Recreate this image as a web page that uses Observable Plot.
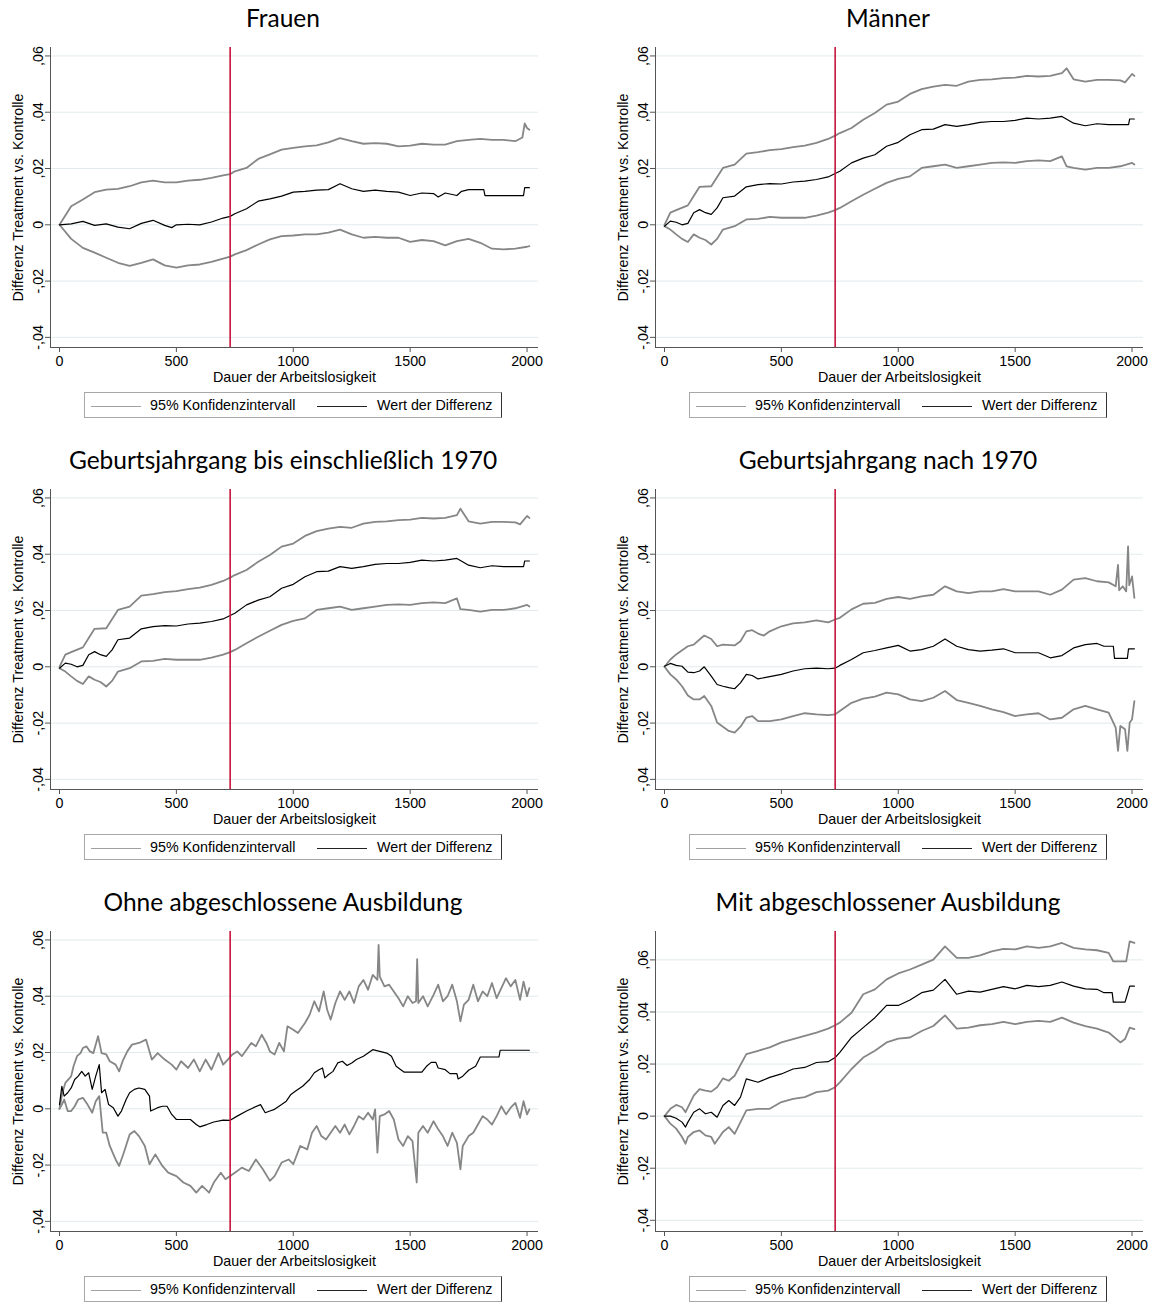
<!DOCTYPE html>
<html>
<head>
<meta charset="utf-8">
<script src="https://cdn.jsdelivr.net/npm/d3@7"></script>
<script src="https://cdn.jsdelivr.net/npm/@observablehq/plot@0.6"></script>
<style>
  html, body { margin: 0; padding: 0; background: #fff; }
  #page { position: relative; width: 1153px; height: 1303px; background: #fff; overflow: hidden; }
  .title { position: absolute; width: 566px; height: 28px; line-height: 28px; text-align: center;
           font-family: Lato, "Open Sans", sans-serif; font-size: 24.5px; color: #000; white-space: nowrap; }
  .chart { position: absolute; width: 560px; height: 350px; }
  .chart svg { max-width: none !important; }
  .legend { position: absolute; width: 418px; height: 26px; box-sizing: border-box;
            border: 1px solid #a8a8a8; border-right-color: #333; background: #fff;
            font-family: "Liberation Sans", Arial, sans-serif; font-size: 14.3px; color: #000; }
  .legend .ln { position: absolute; top: 13px; height: 0; width: 50px; border-top: 1px solid; }
  .legend .tx { position: absolute; top: 4px; line-height: 17px; white-space: nowrap; }
</style>
</head>
<body>
<div id="page"></div>
<script>
// ---------- axis definitions ----------
const xTicks = [0, 500, 1000, 1500, 2000];
const yTicks = [-0.04, -0.02, 0, 0.02, 0.04, 0.06];
const yTickLabels = ["-,04", "-,02", "0", ",02", ",04", ",06"];
const cutoffDay = 730;
const xLabel = "Dauer der Arbeitslosigkeit";
const yLabel = "Differenz Treatment vs. Kontrolle";
const legendLabels = ["95% Konfidenzintervall", "Wert der Differenz"];
const panelTitles = ["Frauen", "Männer", "Geburtsjahrgang bis einschließlich 1970",
                     "Geburtsjahrgang nach 1970", "Ohne abgeschlossene Ausbildung", "Mit abgeschlossener Ausbildung"];

// ---------- data: [Tag, Wert] ----------
const frauenOben = [[0,0],[50,0.0066],[100,0.009],[150,0.0116],[200,0.0125],[250,0.0128],[300,0.0137],[350,0.0151],[400,0.0157],[450,0.0151],[500,0.0151],[550,0.0157],[600,0.016],[650,0.0167],[700,0.0176],[730,0.018],[750,0.019],[800,0.0202],[850,0.0234],[900,0.025],[950,0.0267],[1000,0.0273],[1050,0.0279],[1100,0.0282],[1150,0.0293],[1200,0.0308],[1250,0.0297],[1300,0.0288],[1350,0.029],[1400,0.0288],[1450,0.0279],[1500,0.0281],[1550,0.0288],[1600,0.0285],[1650,0.0285],[1700,0.0297],[1750,0.0302],[1800,0.0305],[1850,0.0302],[1900,0.0302],[1950,0.0297],[1980,0.031],[1990,0.036],[2000,0.0344],[2010,0.0338]];
const frauenDiff = [[0,0],[50,0.0003],[100,0.0012],[150,-0.0002],[200,0.0003],[250,-0.0008],[300,-0.0014],[350,0.0005],[400,0.0016],[450,-0.0002],[480,-0.001],[500,0],[550,0.0002],[600,0],[650,0.001],[700,0.0024],[730,0.003],[750,0.0039],[800,0.0057],[850,0.0084],[900,0.0092],[950,0.0102],[1000,0.0116],[1050,0.0119],[1100,0.0123],[1150,0.0125],[1200,0.0146],[1250,0.0128],[1300,0.0119],[1350,0.0123],[1400,0.0119],[1450,0.0116],[1500,0.0104],[1550,0.0113],[1600,0.0111],[1620,0.0099],[1650,0.0113],[1700,0.0104],[1720,0.0119],[1750,0.0125],[1815,0.0125],[1820,0.0104],[1985,0.0104],[1990,0.0132],[2010,0.0132]];
const frauenUnten = [[0,0],[50,-0.005],[100,-0.0082],[150,-0.0099],[200,-0.0117],[250,-0.0135],[300,-0.0146],[350,-0.0135],[400,-0.0123],[450,-0.0144],[500,-0.0152],[550,-0.0144],[600,-0.0141],[650,-0.0132],[700,-0.012],[730,-0.0113],[750,-0.0105],[800,-0.009],[850,-0.007],[900,-0.0052],[950,-0.004],[1000,-0.0038],[1050,-0.0034],[1100,-0.0034],[1150,-0.0028],[1200,-0.0017],[1250,-0.0034],[1300,-0.0046],[1350,-0.0043],[1400,-0.0046],[1450,-0.0046],[1500,-0.0061],[1550,-0.0054],[1600,-0.0058],[1650,-0.0073],[1700,-0.0058],[1750,-0.005],[1800,-0.0064],[1850,-0.0085],[1900,-0.0087],[1950,-0.0085],[2000,-0.0078],[2010,-0.0076]];

const maennerOben = [[0,0],[25,0.0043],[50,0.0052],[100,0.0069],[125,0.0102],[150,0.0135],[200,0.0137],[250,0.0202],[300,0.0214],[350,0.0253],[400,0.0258],[450,0.0265],[500,0.0269],[550,0.0276],[600,0.0281],[650,0.0291],[700,0.0305],[730,0.0317],[750,0.0326],[800,0.0344],[850,0.0373],[900,0.0397],[950,0.0427],[1000,0.0438],[1050,0.0465],[1100,0.0482],[1150,0.0491],[1200,0.0497],[1250,0.0494],[1300,0.0509],[1350,0.0515],[1400,0.0517],[1450,0.0521],[1500,0.0523],[1550,0.0529],[1600,0.0527],[1650,0.0529],[1700,0.0539],[1720,0.0556],[1750,0.0517],[1800,0.0509],[1850,0.0515],[1900,0.0515],[1950,0.0513],[1970,0.0506],[2000,0.0536],[2010,0.0529]];
const maennerDiff = [[0,-0.0005],[25,0.0013],[50,0.0009],[75,0],[100,0.0005],[125,0.0043],[150,0.0054],[175,0.0043],[200,0.0037],[225,0.006],[250,0.0096],[300,0.0102],[350,0.0135],[400,0.0143],[450,0.0146],[500,0.0145],[550,0.0152],[600,0.0155],[650,0.0161],[700,0.017],[730,0.0182],[750,0.019],[800,0.022],[850,0.0237],[900,0.0249],[950,0.0279],[1000,0.0293],[1050,0.032],[1100,0.0338],[1150,0.034],[1200,0.0356],[1250,0.035],[1300,0.0356],[1350,0.0364],[1400,0.0367],[1450,0.0367],[1500,0.0371],[1550,0.0379],[1600,0.0376],[1650,0.0379],[1700,0.0385],[1750,0.0361],[1800,0.0352],[1850,0.0359],[1900,0.0356],[1985,0.0356],[1990,0.0376],[2010,0.0376]];
const maennerUnten = [[0,-0.0005],[25,-0.0017],[50,-0.0034],[75,-0.005],[100,-0.0061],[125,-0.0034],[150,-0.0046],[175,-0.0054],[200,-0.007],[225,-0.005],[250,-0.0017],[300,-0.0005],[350,0.0019],[400,0.0021],[450,0.0028],[500,0.0025],[550,0.0025],[600,0.0025],[650,0.0033],[700,0.0043],[730,0.0052],[750,0.006],[800,0.0084],[850,0.0107],[900,0.0128],[950,0.0149],[1000,0.0163],[1050,0.0172],[1100,0.0202],[1150,0.0208],[1200,0.0214],[1250,0.0202],[1300,0.0208],[1350,0.0214],[1400,0.022],[1450,0.0222],[1500,0.022],[1550,0.0226],[1600,0.0229],[1650,0.0226],[1700,0.0243],[1720,0.0208],[1750,0.0202],[1800,0.0196],[1850,0.0202],[1900,0.0202],[1950,0.0208],[2000,0.022],[2010,0.0214]];

// Geburtsjahrgang bis einschließlich 1970 (curves read identical to "Männer")
const jg70bisOben = [[0,0],[25,0.0043],[50,0.0052],[100,0.0069],[125,0.0102],[150,0.0135],[200,0.0137],[250,0.0202],[300,0.0214],[350,0.0253],[400,0.0258],[450,0.0265],[500,0.0269],[550,0.0276],[600,0.0281],[650,0.0291],[700,0.0305],[730,0.0317],[750,0.0326],[800,0.0344],[850,0.0373],[900,0.0397],[950,0.0427],[1000,0.0438],[1050,0.0465],[1100,0.0482],[1150,0.0491],[1200,0.0497],[1250,0.0494],[1300,0.0509],[1350,0.0515],[1400,0.0517],[1450,0.0521],[1500,0.0523],[1550,0.0529],[1600,0.0527],[1650,0.0529],[1700,0.0539],[1715,0.0562],[1750,0.0517],[1800,0.0509],[1850,0.0515],[1900,0.0515],[1950,0.0513],[1970,0.0506],[2000,0.0536],[2010,0.0529]];
const jg70bisDiff = [[0,-0.0005],[25,0.0013],[50,0.0009],[75,0],[100,0.0005],[125,0.0043],[150,0.0054],[175,0.0043],[200,0.0037],[225,0.006],[250,0.0096],[300,0.0102],[350,0.0135],[400,0.0143],[450,0.0146],[500,0.0145],[550,0.0152],[600,0.0155],[650,0.0161],[700,0.017],[730,0.0182],[750,0.019],[800,0.022],[850,0.0237],[900,0.0249],[950,0.0279],[1000,0.0293],[1050,0.032],[1100,0.0338],[1150,0.034],[1200,0.0356],[1250,0.035],[1300,0.0356],[1350,0.0364],[1400,0.0367],[1450,0.0367],[1500,0.0371],[1550,0.0379],[1600,0.0376],[1650,0.0379],[1700,0.0385],[1750,0.0361],[1800,0.0352],[1850,0.0359],[1900,0.0356],[1985,0.0356],[1990,0.0376],[2010,0.0376]];
const jg70bisUnten = [[0,-0.0005],[25,-0.0017],[50,-0.0034],[75,-0.005],[100,-0.0061],[125,-0.0034],[150,-0.0046],[175,-0.0054],[200,-0.007],[225,-0.005],[250,-0.0017],[300,-0.0005],[350,0.0019],[400,0.0021],[450,0.0028],[500,0.0025],[550,0.0025],[600,0.0025],[650,0.0033],[700,0.0043],[730,0.0052],[750,0.006],[800,0.0084],[850,0.0107],[900,0.0128],[950,0.0149],[1000,0.0163],[1050,0.0172],[1100,0.0202],[1150,0.0208],[1200,0.0214],[1250,0.0202],[1300,0.0208],[1350,0.0214],[1400,0.022],[1450,0.0222],[1500,0.022],[1550,0.0226],[1600,0.0229],[1650,0.0226],[1700,0.0243],[1715,0.0205],[1750,0.0202],[1800,0.0196],[1850,0.0202],[1900,0.0202],[1950,0.0208],[2000,0.022],[2010,0.0214]];

const jgNach70Oben = [[0,0],[25,0.0026],[50,0.0044],[75,0.0059],[100,0.0073],[125,0.0079],[150,0.0097],[170,0.0111],[200,0.0099],[225,0.0073],[250,0.0079],[300,0.0076],[325,0.0091],[350,0.0126],[375,0.013],[400,0.0118],[425,0.0111],[450,0.0126],[500,0.0144],[550,0.0154],[600,0.0158],[650,0.0165],[700,0.0158],[730,0.0168],[750,0.0174],[800,0.0204],[850,0.0224],[900,0.0227],[950,0.0241],[1000,0.0248],[1050,0.0241],[1100,0.025],[1150,0.0256],[1200,0.0286],[1250,0.0268],[1300,0.0262],[1350,0.0268],[1400,0.0268],[1450,0.0276],[1500,0.0268],[1550,0.0268],[1600,0.0268],[1650,0.0256],[1700,0.0274],[1750,0.031],[1800,0.0315],[1850,0.0304],[1900,0.03],[1930,0.0286],[1940,0.0362],[1945,0.0272],[1960,0.0286],[1975,0.0268],[1983,0.0428],[1988,0.029],[2000,0.0321],[2010,0.0245]];
const jgNach70Diff = [[0,0.0002],[25,0.0012],[50,0.0005],[75,0.0002],[100,-0.0019],[125,-0.0021],[150,-0.0015],[170,0],[200,-0.0033],[225,-0.0063],[250,-0.0069],[275,-0.0074],[300,-0.0078],[325,-0.0057],[350,-0.0027],[375,-0.0031],[400,-0.0043],[450,-0.0035],[500,-0.0027],[550,-0.0015],[600,-0.0007],[650,-0.0005],[700,-0.0007],[730,-0.0005],[750,0.0005],[800,0.0026],[850,0.005],[900,0.0058],[950,0.0067],[1000,0.0076],[1050,0.0056],[1100,0.0061],[1150,0.0073],[1200,0.0099],[1250,0.0073],[1300,0.0061],[1350,0.0056],[1400,0.0059],[1450,0.0064],[1500,0.005],[1550,0.005],[1600,0.005],[1650,0.0032],[1700,0.004],[1750,0.0067],[1800,0.0079],[1850,0.0083],[1880,0.0073],[1920,0.0073],[1925,0.003],[1980,0.003],[1985,0.0064],[2010,0.0064]];
const jgNach70Unten = [[0,0],[25,-0.0027],[50,-0.0045],[75,-0.0069],[100,-0.0102],[125,-0.0116],[150,-0.0116],[170,-0.0104],[200,-0.0139],[225,-0.0198],[250,-0.0213],[275,-0.0228],[300,-0.0234],[325,-0.0213],[350,-0.0181],[375,-0.0175],[400,-0.0193],[450,-0.0193],[500,-0.0187],[550,-0.0175],[600,-0.0165],[650,-0.0169],[700,-0.0172],[730,-0.0169],[750,-0.0157],[800,-0.0128],[850,-0.0113],[900,-0.0106],[950,-0.0092],[1000,-0.0098],[1050,-0.0116],[1100,-0.0122],[1150,-0.011],[1200,-0.0086],[1250,-0.0118],[1300,-0.0128],[1350,-0.0139],[1400,-0.0151],[1450,-0.0161],[1500,-0.0175],[1550,-0.0169],[1600,-0.0165],[1650,-0.0187],[1700,-0.0181],[1750,-0.0151],[1800,-0.0139],[1850,-0.0151],[1900,-0.0163],[1930,-0.0216],[1940,-0.0299],[1950,-0.021],[1970,-0.0222],[1980,-0.0299],[1990,-0.0198],[2000,-0.0187],[2010,-0.0122]];

const ohneOben = [[0,0],[12,0.0057],[25,0.0092],[40,0.0106],[50,0.0116],[60,0.0151],[75,0.0187],[90,0.0198],[100,0.0216],[115,0.0222],[130,0.0204],[145,0.0198],[165,0.0258],[180,0.0198],[200,0.0193],[215,0.0169],[240,0.0157],[255,0.0133],[270,0.0169],[290,0.0204],[310,0.0228],[340,0.0234],[370,0.0246],[385,0.0204],[395,0.0175],[420,0.0198],[450,0.0175],[480,0.0157],[500,0.0139],[520,0.0169],[550,0.0145],[575,0.0175],[600,0.0133],[625,0.0175],[650,0.0139],[680,0.0198],[700,0.0157],[720,0.0175],[740,0.0193],[760,0.0204],[780,0.0187],[800,0.021],[820,0.0234],[840,0.0222],[865,0.0263],[885,0.0234],[900,0.0204],[920,0.0193],[940,0.0234],[960,0.0204],[975,0.0293],[1000,0.0281],[1020,0.0269],[1050,0.0305],[1070,0.0334],[1090,0.0382],[1110,0.0346],[1130,0.0417],[1145,0.0352],[1160,0.0317],[1180,0.0376],[1200,0.0417],[1220,0.0387],[1240,0.0417],[1260,0.0376],[1280,0.0435],[1300,0.0458],[1320,0.0423],[1340,0.0476],[1360,0.0458],[1365,0.0582],[1370,0.047],[1390,0.0435],[1410,0.0441],[1430,0.0417],[1450,0.0393],[1470,0.0364],[1490,0.04],[1510,0.0376],[1525,0.0382],[1530,0.0532],[1535,0.0376],[1555,0.04],[1575,0.0364],[1600,0.0405],[1620,0.0441],[1640,0.0382],[1660,0.04],[1680,0.0441],[1700,0.0382],[1715,0.0311],[1730,0.037],[1750,0.0387],[1770,0.0441],[1790,0.0382],[1810,0.0417],[1830,0.04],[1850,0.0447],[1870,0.0393],[1890,0.0429],[1910,0.0464],[1930,0.0435],[1950,0.0458],[1970,0.0387],[1985,0.0452],[2000,0.04],[2010,0.0429]];
const ohneDiff = [[0,0.0015],[10,0.008],[20,0.0045],[35,0.0057],[50,0.0074],[65,0.0104],[80,0.0116],[95,0.0133],[110,0.0116],[125,0.0128],[140,0.0069],[155,0.0116],[170,0.0157],[180,0.0057],[195,0.0069],[210,0.0015],[230,0.0004],[250,-0.0026],[265,-0.0008],[285,0.0033],[300,0.0057],[320,0.0069],[340,0.0074],[365,0.0069],[385,0.0045],[390,-0.0008],[420,0.0004],[440,0.0009],[460,0.0009],[480,-0.002],[500,-0.0038],[530,-0.0038],[560,-0.0038],[585,-0.0056],[600,-0.0064],[630,-0.0056],[660,-0.0047],[700,-0.004],[730,-0.0041],[760,-0.0026],[800,-0.0008],[830,0.0004],[860,0.0015],[880,-0.0014],[900,-0.0008],[920,-0.0002],[950,0.0015],[970,0.0027],[990,0.0051],[1010,0.0063],[1040,0.008],[1070,0.0104],[1090,0.0128],[1110,0.0139],[1125,0.0145],[1135,0.011],[1150,0.0121],[1170,0.0133],[1190,0.0163],[1210,0.0169],[1230,0.0154],[1250,0.0163],[1270,0.0175],[1300,0.0187],[1320,0.0198],[1340,0.021],[1370,0.0204],[1400,0.0198],[1420,0.0187],[1440,0.0151],[1460,0.0139],[1475,0.013],[1550,0.013],[1570,0.0151],[1590,0.0165],[1610,0.0165],[1620,0.0145],[1650,0.0139],[1670,0.0125],[1700,0.0125],[1705,0.0106],[1725,0.0116],[1750,0.0137],[1780,0.0151],[1800,0.0184],[1880,0.0184],[1885,0.0208],[2010,0.0208]];
const ohneUnten = [[0,0],[10,0.0015],[20,0.0033],[35,-0.0008],[50,-0.0008],[65,0.0009],[80,0.0033],[100,0.0039],[120,0.0015],[140,-0.0014],[155,0.0027],[170,0.0045],[185,-0.0085],[200,-0.0085],[215,-0.0132],[240,-0.018],[255,-0.0203],[275,-0.0156],[300,-0.0091],[320,-0.0079],[340,-0.0097],[365,-0.0132],[385,-0.0197],[410,-0.0162],[440,-0.0203],[465,-0.0227],[500,-0.0239],[530,-0.0262],[560,-0.0274],[585,-0.0298],[610,-0.0274],[640,-0.0298],[660,-0.0262],[690,-0.0227],[710,-0.025],[730,-0.0239],[750,-0.0227],[780,-0.0209],[810,-0.0221],[840,-0.018],[870,-0.0215],[900,-0.0256],[920,-0.0239],[950,-0.0191],[980,-0.018],[1000,-0.0197],[1030,-0.0132],[1060,-0.0144],[1080,-0.0085],[1100,-0.0061],[1120,-0.0097],[1140,-0.0109],[1160,-0.0085],[1180,-0.0061],[1200,-0.0085],[1220,-0.0056],[1240,-0.0091],[1260,-0.0061],[1280,-0.0026],[1300,-0.0038],[1320,-0.0014],[1340,-0.0038],[1350,-0.0002],[1360,-0.0156],[1370,-0.0026],[1390,-0.002],[1410,-0.0008],[1430,-0.0038],[1450,-0.0109],[1470,-0.0132],[1490,-0.0097],[1510,-0.0115],[1528,-0.0262],[1535,-0.0085],[1555,-0.0061],[1575,-0.0085],[1600,-0.0044],[1620,-0.0073],[1640,-0.0097],[1660,-0.0132],[1680,-0.0085],[1700,-0.0121],[1715,-0.0215],[1725,-0.0132],[1750,-0.0097],[1770,-0.0085],[1790,-0.0056],[1810,-0.0026],[1830,-0.0038],[1850,-0.0056],[1870,-0.0026],[1890,0.0009],[1910,-0.002],[1930,0.0004],[1950,0.0021],[1970,-0.0032],[1985,0.0027],[2000,-0.002],[2010,-0.0002]];

const mitOben = [[0,0],[25,0.0028],[50,0.0043],[75,0.0034],[90,0.0015],[100,0.0034],[125,0.0079],[150,0.0104],[175,0.0098],[200,0.0094],[225,0.0111],[250,0.0145],[275,0.0136],[300,0.0155],[350,0.0238],[400,0.0251],[450,0.0264],[500,0.0283],[550,0.0296],[600,0.0308],[650,0.0321],[700,0.0336],[730,0.0349],[750,0.0359],[800,0.0397],[850,0.0468],[900,0.0487],[950,0.0525],[1000,0.0548],[1050,0.0563],[1100,0.0582],[1150,0.0601],[1200,0.0652],[1250,0.0608],[1300,0.0608],[1350,0.0617],[1400,0.0633],[1450,0.0642],[1500,0.064],[1550,0.0652],[1600,0.0646],[1650,0.0652],[1700,0.0665],[1750,0.0646],[1800,0.064],[1850,0.0637],[1900,0.0627],[1920,0.0594],[1975,0.0594],[1990,0.0671],[2010,0.0665]];
const mitDiff = [[0,0],[25,0],[50,-0.0008],[75,-0.0023],[90,-0.0042],[100,-0.0023],[125,0.0015],[150,0.0028],[175,0.0009],[200,0.0015],[225,-0.0004],[250,0.0041],[275,0.006],[300,0.0041],[325,0.0073],[350,0.0143],[400,0.013],[450,0.0149],[500,0.0162],[550,0.0181],[600,0.0187],[650,0.0206],[700,0.0209],[730,0.0225],[750,0.0245],[800,0.0302],[850,0.034],[900,0.0378],[950,0.0425],[1000,0.0425],[1050,0.0446],[1100,0.0474],[1150,0.0484],[1200,0.0525],[1250,0.0468],[1300,0.048],[1350,0.0476],[1400,0.0487],[1450,0.0497],[1500,0.0489],[1550,0.0502],[1600,0.0497],[1650,0.0502],[1700,0.0515],[1750,0.0499],[1800,0.0489],[1850,0.0487],[1880,0.0474],[1915,0.0474],[1920,0.0438],[1970,0.0438],[1980,0.0468],[1990,0.0499],[2010,0.0499]];
const mitUnten = [[0,0],[25,-0.0029],[50,-0.0048],[75,-0.008],[90,-0.0106],[100,-0.008],[125,-0.0061],[150,-0.0055],[175,-0.0074],[200,-0.008],[215,-0.0106],[250,-0.0061],[275,-0.0042],[300,-0.0068],[350,0.0022],[400,0.0028],[450,0.0028],[500,0.0054],[550,0.0066],[600,0.0073],[650,0.0092],[700,0.0098],[730,0.0111],[750,0.013],[800,0.0181],[850,0.0225],[900,0.0251],[950,0.0283],[1000,0.0298],[1050,0.0302],[1100,0.0327],[1150,0.0346],[1200,0.0387],[1250,0.0336],[1300,0.034],[1350,0.0349],[1400,0.0353],[1450,0.0362],[1500,0.0353],[1550,0.0362],[1600,0.0366],[1650,0.0362],[1700,0.0378],[1750,0.0359],[1800,0.0346],[1850,0.0336],[1900,0.0321],[1950,0.0283],[1970,0.0296],[1990,0.034],[2010,0.0334]];

const panels = [
  {title: panelTitles[0], oben: frauenOben, diff: frauenDiff, unten: frauenUnten, yDomain: [-0.0436, 0.063]},
  {title: panelTitles[1], oben: maennerOben, diff: maennerDiff, unten: maennerUnten, yDomain: [-0.0436, 0.063]},
  {title: panelTitles[2], oben: jg70bisOben, diff: jg70bisDiff, unten: jg70bisUnten, yDomain: [-0.0436, 0.063]},
  {title: panelTitles[3], oben: jgNach70Oben, diff: jgNach70Diff, unten: jgNach70Unten, yDomain: [-0.0436, 0.063]},
  {title: panelTitles[4], oben: ohneOben, diff: ohneDiff, unten: ohneUnten, yDomain: [-0.0436, 0.063]},
  {title: panelTitles[5], oben: mitOben, diff: mitDiff, unten: mitUnten, yDomain: [-0.0443, 0.0709]}
];

const xDomain = [-38.5, 2049];
const FONT = "'Liberation Sans', Arial, Helvetica, sans-serif";
const FS = 14.3;
const AXIS = "#555";
const GRAY = "#868686";

function makeChart(p) {
  const [y0, y1] = p.yDomain;
  const tickRows = yTicks.map((v, i) => ({v, label: yTickLabels[i]}));
  return Plot.plot({
    width: 560, height: 350,
    marginLeft: 50, marginRight: 22, marginTop: 7, marginBottom: 43,
    style: {fontFamily: FONT, fontSize: FS + "px", color: "#000", background: "transparent", overflow: "visible"},
    x: {domain: xDomain},
    y: {domain: [y0, y1]},
    marks: [
      Plot.gridY(yTicks, {stroke: "#e1eaec", strokeOpacity: 1, strokeWidth: 1}),
      Plot.axisY(yTicks, {tickSize: 5, tickFormat: () => "", stroke: AXIS, label: null}),
      Plot.text(tickRows, {x: xDomain[0], y: "v", text: "label", rotate: -90, textAnchor: "middle",
                           lineAnchor: "bottom", dx: -8, fontSize: FS, fill: "#000"}),
      Plot.axisX(xTicks, {tickSize: 5, tickPadding: 3, stroke: AXIS, fill: "#000", label: null,
                          fontSize: FS, tickFormat: d => String(d)}),
      Plot.ruleX([xDomain[0]], {stroke: AXIS, strokeWidth: 1}),
      Plot.ruleY([y0], {stroke: AXIS, strokeWidth: 1}),
      Plot.line(p.oben, {x: d => d[0], y: d => d[1], stroke: GRAY, strokeWidth: 1.8}),
      Plot.line(p.unten, {x: d => d[0], y: d => d[1], stroke: GRAY, strokeWidth: 1.8}),
      Plot.line(p.diff, {x: d => d[0], y: d => d[1], stroke: "#000", strokeWidth: 1.2}),
      Plot.ruleX([cutoffDay], {stroke: "#c8143c", strokeWidth: 1.6}),
      Plot.text([xLabel], {frameAnchor: "bottom", dy: 30, text: d => d, fontSize: FS, fill: "#000", lineAnchor: "middle"}),
      Plot.text([yLabel], {frameAnchor: "left", dx: -32, rotate: -90, text: d => d, fontSize: FS, fill: "#000",
                           textAnchor: "middle", lineAnchor: "middle"})
    ]
  });
}

const page = document.getElementById("page");
panels.forEach((p, i) => {
  const col = i % 2, row = Math.floor(i / 2);
  const ox = col * 605, oy = row * 442;

  const t = document.createElement("div");
  t.className = "title";
  t.style.left = ox + "px";
  t.style.top = (oy + 4) + "px";
  t.textContent = p.title;
  page.appendChild(t);

  const c = document.createElement("div");
  c.className = "chart";
  c.style.left = ox + "px";
  c.style.top = (oy + 40) + "px";
  c.appendChild(makeChart(p));
  page.appendChild(c);

  const lg = document.createElement("div");
  lg.className = "legend";
  lg.style.left = (ox + 84) + "px";
  lg.style.top = (oy + 392) + "px";
  lg.innerHTML =
    `<div class="ln" style="left:6px;border-color:#a0a0a0"></div>` +
    `<div class="tx" style="left:65px">${legendLabels[0]}</div>` +
    `<div class="ln" style="left:232px;border-color:#222"></div>` +
    `<div class="tx" style="left:292px">${legendLabels[1]}</div>`;
  page.appendChild(lg);
});
</script>
</body>
</html>
